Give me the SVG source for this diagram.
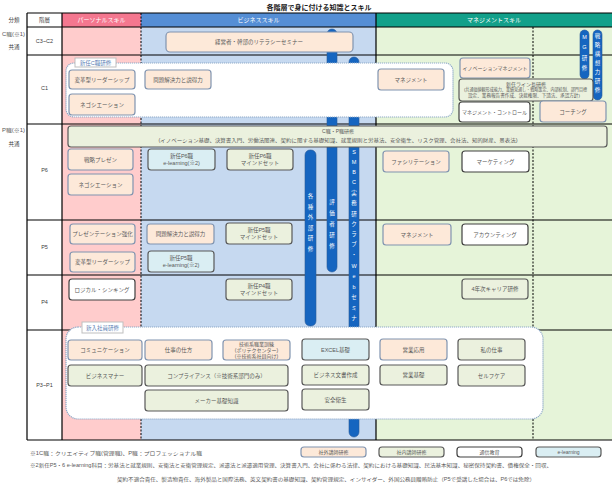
<svg xmlns="http://www.w3.org/2000/svg" width="613" height="489" viewBox="0 0 613 489">
<defs>
<style>
text{font-family:"Liberation Sans","Noto Sans CJK JP",sans-serif}
.t{font-size:5.5px;fill:#595959;text-anchor:middle;dominant-baseline:central}
.s{font-size:5px;fill:#595959;text-anchor:middle;dominant-baseline:central}
.f{font-size:5px;fill:#595959;dominant-baseline:central}
.lab{font-size:5.5px;fill:#404040;text-anchor:middle;dominant-baseline:central}
.hd{font-size:6px;fill:#ffffff;text-anchor:middle;dominant-baseline:central}
.pe{fill:#fde9d9;stroke:#8094b0;stroke-width:1.2}
.ol{fill:#ebf1de;stroke:#595959;stroke-width:1.2}
.wh{fill:#ffffff;stroke:#404040;stroke-width:1.2}
.lb{fill:#daeef3;stroke:#595959;stroke-width:1.2}
.bar{fill:#1565c0;stroke:#2a5a98;stroke-width:0.6}
.bt{font-size:5.5px;fill:#ffffff;text-anchor:middle;dominant-baseline:central}
.grid{stroke:#000;stroke-width:1.2;fill:none}
.dash{stroke:#000;stroke-width:1;stroke-dasharray:2 1.5;fill:none}
.grp{fill:#ffffff;stroke:#8ea9c8;stroke-width:1.2;stroke-dasharray:1.2 0.8}
.tab{fill:#ffffff;stroke:#bfbfbf;stroke-width:1}
.tabt{font-size:5.5px;fill:#5b7fb5;text-anchor:middle;dominant-baseline:central}
</style>
</defs>
<rect x="0" y="0" width="613" height="489" fill="#ffffff"/>
<text x="319" y="7" font-size="7px" font-weight="bold" fill="#222" text-anchor="middle" dominant-baseline="central">各階層で身に付ける知識とスキル</text>

<g id="table">
<rect x="62" y="27" width="79" height="413" fill="#ffcccc"/>
<rect x="141" y="27" width="235" height="413" fill="#c6d9f0"/>
<rect x="376" y="27" width="236" height="413" fill="#e6f4d9"/>
<rect x="62" y="13" width="79" height="14" fill="#f4778f"/>
<rect x="141" y="13" width="235" height="14" fill="#558ed5"/>
<rect x="376" y="13" width="236" height="14" fill="#12a08a"/>
<text class="hd" x="101.5" y="20">パーソナルスキル</text>
<text class="hd" x="258.5" y="20">ビジネススキル</text>
<text class="hd" x="494" y="20">マネジメントスキル</text>
<text class="lab" x="44.5" y="20">階層</text>
<path class="grid" d="M27 13H612M27 27H612M27 55H612M27 124H612M27 220H612M27 275H612M27 330H612M27 440H612M27 13V440M62 13V440M376 13V440"/>
<path class="dash" d="M141 13V440M533 27V440"/>
<text class="lab" x="14" y="20">分類</text>
<text class="f" x="2" y="34" textLength="23" lengthAdjust="spacingAndGlyphs" fill="#404040">C職(※1)</text>
<text class="lab" x="14" y="47">共通</text>
<text class="f" x="2" y="130" textLength="23" lengthAdjust="spacingAndGlyphs" fill="#404040">P職(※1)</text>
<text class="lab" x="14" y="144">共通</text>
<text class="lab" x="44.5" y="41">C3~C2</text>
<text class="lab" x="44.5" y="88">C1</text>
<text class="lab" x="44.5" y="170">P6</text>
<text class="lab" x="44.5" y="247">P5</text>
<text class="lab" x="44.5" y="302">P4</text>
<text class="lab" x="44.5" y="385">P3~P1</text>
</g>

<g id="bars">
<g id="bar-kakushu">
<rect class="bar" x="305" y="150" width="11" height="176" rx="5"/>
<text class="bt"><tspan x="310.5" y="196">各</tspan><tspan x="310.5" y="206.5">種</tspan><tspan x="310.5" y="217">外</tspan><tspan x="310.5" y="227.5">部</tspan><tspan x="310.5" y="238">研</tspan><tspan x="310.5" y="248.5">修</tspan></text>
</g>
<g id="bar-hyoka">
<rect class="bar" x="327" y="29" width="10" height="243" rx="5"/>
<text class="bt"><tspan x="332" y="202">評</tspan><tspan x="332" y="213">価</tspan><tspan x="332" y="224">者</tspan><tspan x="332" y="235">研</tspan><tspan x="332" y="246">修</tspan></text>
</g>
<g id="bar-smbc">
<rect class="bar" x="349" y="57" width="10" height="380" rx="5"/>
<text class="bt"><tspan x="354" y="152">S</tspan><tspan x="354" y="162">M</tspan><tspan x="354" y="172">B</tspan><tspan x="354" y="182">C</tspan><tspan x="354" y="192.5">実</tspan><tspan x="354" y="203">務</tspan><tspan x="354" y="213.5">研</tspan><tspan x="354" y="224">ク</tspan><tspan x="354" y="234">ラ</tspan><tspan x="354" y="244">ブ</tspan><tspan x="354" y="255">・</tspan><tspan x="354" y="266">W</tspan><tspan x="354" y="276">e</tspan><tspan x="354" y="287">b</tspan><tspan x="354" y="297">セ</tspan><tspan x="354" y="307.5">ミ</tspan><tspan x="354" y="318">ナ</tspan><tspan x="354" y="328.5">ー</tspan></text>
</g>
<g id="bar-mg">
<rect class="bar" x="580" y="30" width="9" height="49" rx="4.5"/>
<text class="bt"><tspan x="584.5" y="37">M</tspan><tspan x="584.5" y="47">G</tspan><tspan x="584.5" y="57.5">研</tspan><tspan x="584.5" y="68">修</tspan></text>
</g>
<g id="bar-senryaku">
<rect class="bar" x="593" y="30" width="9" height="70" rx="4.5"/>
<text class="bt"><tspan x="597.5" y="36">戦</tspan><tspan x="597.5" y="45">略</tspan><tspan x="597.5" y="54">構</tspan><tspan x="597.5" y="63">想</tspan><tspan x="597.5" y="72">力</tspan><tspan x="597.5" y="81">研</tspan><tspan x="597.5" y="90">修</tspan></text>
</g>
</g>

<g id="connectors"></g>

<g id="n-literacy"><rect class="pe" x="166" y="32" width="187" height="20" rx="4"/><text class="t" x="259" y="42">経営者・幹部のリテラシーセミナー</text></g>

<g id="grp-c1">
<rect class="grp" x="66" y="63" width="387" height="54" rx="8"/>
<rect class="tab" x="75" y="58" width="41" height="9"/>
<text class="tabt" x="95.5" y="62.5">新任C職研修</text>
</g>
<g id="n-c1-leader"><rect class="pe" x="69" y="70" width="66" height="19" rx="3"/><text class="t" x="102" y="79.5">変革型リーダーシップ</text></g>
<g id="n-c1-nego"><rect class="pe" x="69" y="94" width="66" height="21" rx="3"/><text class="t" x="102" y="104.5">ネゴシエーション</text></g>
<g id="n-c1-mondai"><rect class="pe" x="145" y="70" width="66" height="19" rx="3"/><text class="t" x="178" y="79.5">問題解決力と説得力</text></g>
<g id="n-c1-mgmt"><rect class="pe" x="378" y="69" width="66" height="21" rx="3"/><text class="t" x="411" y="79.5">マネジメント</text></g>
<g id="n-c1-inno"><rect class="pe" x="460" y="58" width="70" height="20" rx="3"/><text class="s" x="495" y="68">イノベーションマネジメント</text></g>
<g id="n-c1-line"><rect class="ol" x="459" y="79" width="134" height="22" rx="3"/><text class="s" x="526" y="83.5">新任ライン長研修</text><text x="464" y="89.5" font-size="4.2px" fill="#595959" dominant-baseline="central" textLength="123" lengthAdjust="spacingAndGlyphs">(共通価値観形成能力、業績見通し・戦略策定、内部統制、部門目標</text><text x="468" y="95.5" font-size="4.2px" fill="#595959" dominant-baseline="central" textLength="112" lengthAdjust="spacingAndGlyphs">設定、業務報告書作成、決裁権限、下請法、承認方針)</text></g>
<g id="n-c1-control"><rect class="wh" x="459" y="102" width="71" height="20" rx="3"/><text class="s" x="494.5" y="112">マネジメント・コントロール</text></g>
<g id="n-c1-coach"><rect class="pe" x="540" y="101" width="66" height="21" rx="3"/><text class="t" x="573" y="111.5">コーチング</text></g>

<g id="n-cp"><rect class="ol" x="68" y="126" width="539" height="21" rx="3"/><text class="s" x="338" y="131">C職・P職研修</text><text class="s" x="338" y="139.5" textLength="359" lengthAdjust="spacingAndGlyphs">(イノベーション基礎、決算書入門、労働法関連、契約に関する基礎知識、就業規則と労基法、安全衛生、リスク管理、会社法、知的財産、景表法)</text></g>
<g id="n-p6-pres"><rect class="pe" x="68" y="149" width="65" height="21" rx="3"/><text class="t" x="100.5" y="159.5">戦略プレゼン</text></g>
<g id="n-p6-nego"><rect class="pe" x="68" y="174" width="65" height="21" rx="3"/><text class="t" x="100.5" y="184.5">ネゴシエーション</text></g>
<g id="n-p6-el"><rect class="lb" x="148" y="149" width="67" height="21" rx="3"/><text class="t" x="181.5" y="156">新任P6職</text><text class="t" x="181.5" y="163">e-learning(※2)</text></g>
<g id="n-p6-mind"><rect class="ol" x="227" y="149" width="66" height="21" rx="3"/><text class="t" x="260" y="156">新任P6職</text><text class="t" x="260" y="163">マインドセット</text></g>
<g id="n-p6-faci"><rect class="pe" x="383" y="151" width="66" height="21" rx="3"/><text class="t" x="416" y="161.5">ファシリテーション</text></g>
<g id="n-p6-mkt"><rect class="wh" x="462" y="151" width="67" height="21" rx="3"/><text class="t" x="495.5" y="161.5">マーケティング</text></g>

<g id="n-p5-pres"><rect class="pe" x="70" y="224" width="65" height="20" rx="3"/><text class="t" x="102.5" y="234">プレゼンテーション強化</text></g>
<g id="n-p5-leader"><rect class="pe" x="70" y="252" width="65" height="20" rx="3"/><text class="t" x="102.5" y="262">変革型リーダーシップ</text></g>
<g id="n-p5-mondai"><rect class="pe" x="147" y="224" width="67" height="20" rx="3"/><text class="t" x="180.5" y="234">問題解決力と説得力</text></g>
<g id="n-p5-mind"><rect class="ol" x="226" y="223" width="66" height="21" rx="3"/><text class="t" x="259" y="230">新任P5職</text><text class="t" x="259" y="237">マインドセット</text></g>
<g id="n-p5-el"><rect class="lb" x="148" y="251" width="66" height="21" rx="3"/><text class="t" x="181" y="258">新任P5職</text><text class="t" x="181" y="265">e-learning(※2)</text></g>
<g id="n-p5-mgmt"><rect class="pe" x="383" y="224" width="68" height="21" rx="3"/><text class="t" x="417" y="234.5">マネジメント</text></g>
<g id="n-p5-acc"><rect class="wh" x="462" y="224" width="66" height="21" rx="3"/><text class="t" x="495" y="234.5">アカウンティング</text></g>

<g id="n-p4-logic"><rect class="wh" x="69" y="279" width="66" height="21" rx="3"/><text class="t" x="102" y="289.5">ロジカル・シンキング</text></g>
<g id="n-p4-mind"><rect class="ol" x="226" y="279" width="66" height="21" rx="3"/><text class="t" x="259" y="286">新任P4職</text><text class="t" x="259" y="293">マインドセット</text></g>
<g id="n-p4-career"><rect class="ol" x="462" y="279" width="66" height="20" rx="3"/><text class="t" x="495" y="289">4年次キャリア研修</text></g>

<g id="grp-new">
<rect class="grp" x="66" y="327" width="477" height="92" rx="12"/>
<rect class="tab" x="82" y="322" width="41" height="11"/>
<text class="tabt" x="102.5" y="327.5">新入社員研修</text>
</g>
<g id="n-comm"><rect class="pe" x="68" y="340" width="74" height="20" rx="3"/><text class="t" x="105" y="350">コミュニケーション</text></g>
<g id="n-shigoto"><rect class="pe" x="145" y="340" width="67" height="20" rx="3"/><text class="t" x="178.5" y="350">仕事の仕方</text></g>
<g id="n-poly"><rect class="pe" x="223" y="340" width="67" height="20" rx="3"/><text class="s" x="256.5" y="344">技術系職業訓練</text><text class="s" x="256.5" y="350">(ポリテクセンター)</text><text class="s" x="256.5" y="356">(※技術系社員向け)</text></g>
<g id="n-excel"><rect class="lb" x="302" y="339" width="67" height="21" rx="3"/><text class="t" x="335.5" y="349.5">EXCEL基礎</text></g>
<g id="n-eigyo-o"><rect class="pe" x="380" y="339" width="67" height="21" rx="3"/><text class="t" x="413.5" y="349.5">営業応用</text></g>
<g id="n-watashi"><rect class="ol" x="458" y="339" width="67" height="21" rx="3"/><text class="t" x="491.5" y="349.5">私の仕事</text></g>
<g id="n-manner"><rect class="ol" x="68" y="365" width="74" height="21" rx="3"/><text class="t" x="105" y="375.5">ビジネスマナー</text></g>
<g id="n-comp"><rect class="ol" x="145" y="365" width="143" height="21" rx="3"/><text class="t" x="216.5" y="375.5">コンプライアンス（※技術系部門のみ）</text></g>
<g id="n-bunsho"><rect class="ol" x="302" y="365" width="67" height="20" rx="3"/><text class="t" x="335.5" y="375">ビジネス文書作成</text></g>
<g id="n-eigyo-k"><rect class="ol" x="380" y="365" width="67" height="20" rx="3"/><text class="t" x="413.5" y="375">営業基礎</text></g>
<g id="n-self"><rect class="ol" x="458" y="365" width="67" height="21" rx="3"/><text class="t" x="491.5" y="375.5">セルフケア</text></g>
<g id="n-maker"><rect class="ol" x="145" y="390" width="143" height="21" rx="3"/><text class="t" x="216.5" y="400.5">メーカー基礎知識</text></g>
<g id="n-anzen"><rect class="ol" x="302" y="389" width="67" height="21" rx="3"/><text class="t" x="335.5" y="399.5">安全衛生</text></g>

<g id="legend">
<rect class="pe" x="301" y="447" width="65" height="10" rx="3"/><text class="s" x="333.5" y="452">社外講師研修</text>
<rect class="ol" x="379" y="447" width="65" height="10" rx="3"/><text class="s" x="411.5" y="452">社内講師研修</text>
<rect class="wh" x="457" y="447" width="65" height="10" rx="3"/><text class="s" x="489.5" y="452">通信教育</text>
<rect class="lb" x="536" y="447" width="65" height="10" rx="3"/><text class="s" x="568.5" y="452" fill="#4f6fa0">e-learning</text>
</g>
<g id="notes">
<text class="f" x="30" y="453" textLength="172" lengthAdjust="spacingAndGlyphs">※1C職：クリエイティブ職(管理職)、P職：プロフェッショナル職</text>
<text class="f" x="30" y="465" textLength="522" lengthAdjust="spacingAndGlyphs">※2新任P5・6 e-learning科目：労基法と就業規則、安衛法と安衛管理規定、派遣法と派遣適用管理、決算書入門、会社に係わる法律、契約における基礎知識、民法基本知識、秘密保持契約書、債権保全・回収、</text>
<text class="f" x="117" y="479" textLength="418" lengthAdjust="spacingAndGlyphs">契約不適合責任、製造物責任、海外製品と国際法務、英文契約書の基礎知識、契約管理規定、インサイダー、外国公務員贈賄防止（P5で受講した場合は、P6では免除）</text>
</g>
</svg>
